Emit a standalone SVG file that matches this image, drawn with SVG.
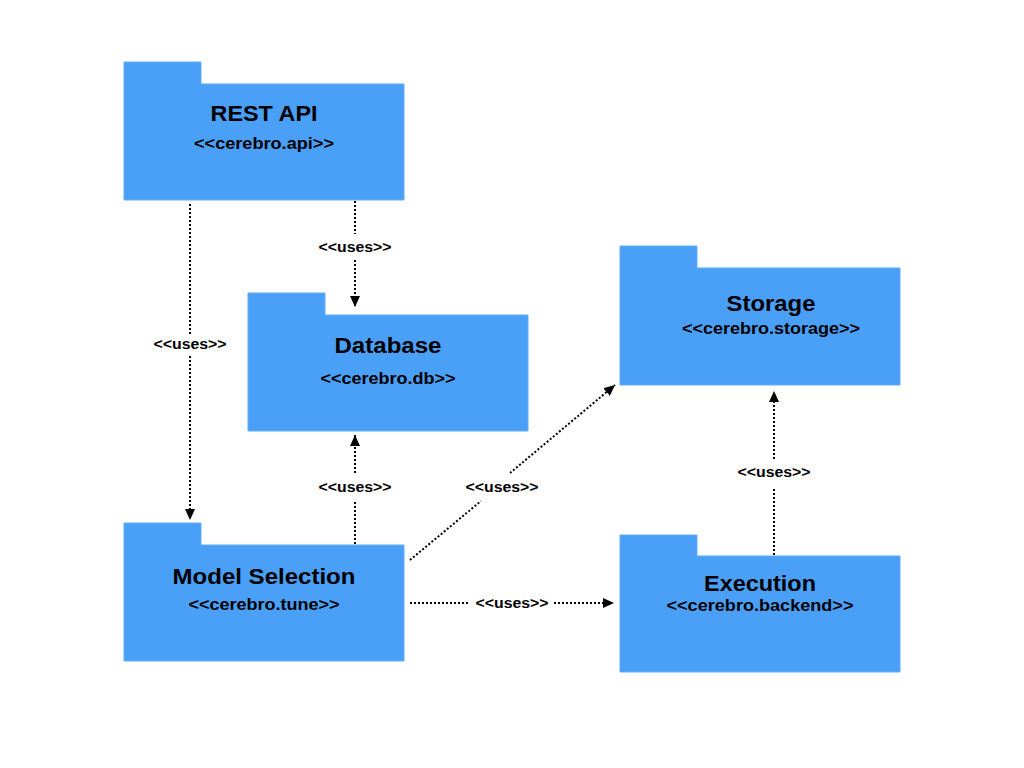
<svg xmlns="http://www.w3.org/2000/svg" width="1024" height="768" viewBox="0 0 1024 768">
<defs>
<style>
.pkg{fill:#4A9FF7;stroke:#63ADF8;stroke-width:1}
.title{font-family:"Liberation Sans",Arial,sans-serif;font-weight:bold;font-size:22px;fill:#000;text-anchor:middle}
.sub{font-family:"Liberation Sans",Arial,sans-serif;font-weight:bold;font-size:17px;fill:#000;text-anchor:middle}
.lbl{font-family:"Liberation Sans",Arial,sans-serif;font-weight:bold;font-size:14px;fill:#000;text-anchor:middle}
.dep{fill:none;stroke:#000;stroke-width:2;stroke-dasharray:2 2}
</style>
<marker id="arr" markerUnits="userSpaceOnUse" markerWidth="12" markerHeight="10" refX="11" refY="5" orient="auto">
<path d="M0,0 L11,5 L0,10 Z" fill="#000"/>
</marker>
</defs>
<rect width="1024" height="768" fill="#fff"/>

<g id="rest-api">
<path class="pkg" d="M124,62 H201 V84 H404 V200 H124 Z"/>
<text class="title" x="264" y="121" textLength="107" lengthAdjust="spacingAndGlyphs">REST API</text>
<text class="sub" x="264" y="149" textLength="140" lengthAdjust="spacingAndGlyphs">&lt;&lt;cerebro.api&gt;&gt;</text>
</g>

<g id="database">
<path class="pkg" d="M248,293 H325 V315 H528 V431 H248 Z"/>
<text class="title" x="388" y="353" textLength="107" lengthAdjust="spacingAndGlyphs">Database</text>
<text class="sub" x="388" y="384" textLength="135" lengthAdjust="spacingAndGlyphs">&lt;&lt;cerebro.db&gt;&gt;</text>
</g>

<g id="model-selection">
<path class="pkg" d="M124,523 H201 V545 H404 V661 H124 Z"/>
<text class="title" x="264" y="584" textLength="183" lengthAdjust="spacingAndGlyphs">Model Selection</text>
<text class="sub" x="264" y="610" textLength="151" lengthAdjust="spacingAndGlyphs">&lt;&lt;cerebro.tune&gt;&gt;</text>
</g>

<g id="storage">
<path class="pkg" d="M620,246 H697 V268 H900 V385 H620 Z"/>
<text class="title" x="771" y="311" textLength="89" lengthAdjust="spacingAndGlyphs">Storage</text>
<text class="sub" x="771" y="334" textLength="178" lengthAdjust="spacingAndGlyphs">&lt;&lt;cerebro.storage&gt;&gt;</text>
</g>

<g id="execution">
<path class="pkg" d="M620,535 H697 V556 H900 V672 H620 Z"/>
<text class="title" x="760" y="591" textLength="112" lengthAdjust="spacingAndGlyphs">Execution</text>
<text class="sub" x="760" y="611" textLength="187" lengthAdjust="spacingAndGlyphs">&lt;&lt;cerebro.backend&gt;&gt;</text>
</g>

<g id="connectors">
<path class="dep" d="M190,204 V334"/>
<path class="dep" d="M190,356 V520" marker-end="url(#arr)"/>
<text class="lbl" x="190" y="349" textLength="73" lengthAdjust="spacingAndGlyphs">&lt;&lt;uses&gt;&gt;</text>

<path class="dep" d="M355,201 V234"/>
<path class="dep" d="M355,260 V307" marker-end="url(#arr)"/>
<text class="lbl" x="355" y="252" textLength="73" lengthAdjust="spacingAndGlyphs">&lt;&lt;uses&gt;&gt;</text>

<path class="dep" d="M355,544 V500"/>
<path class="dep" d="M355,473 V435" marker-end="url(#arr)"/>
<text class="lbl" x="355" y="492" textLength="73" lengthAdjust="spacingAndGlyphs">&lt;&lt;uses&gt;&gt;</text>

<path class="dep" d="M410,560 L481,501"/>
<path class="dep" d="M510,473 L615,385" marker-end="url(#arr)"/>
<text class="lbl" x="502" y="492" textLength="73" lengthAdjust="spacingAndGlyphs">&lt;&lt;uses&gt;&gt;</text>

<path class="dep" d="M410,603 H470"/>
<path class="dep" d="M554,603 H614" marker-end="url(#arr)"/>
<text class="lbl" x="512" y="608" textLength="73" lengthAdjust="spacingAndGlyphs">&lt;&lt;uses&gt;&gt;</text>

<path class="dep" d="M774,555 V487"/>
<path class="dep" d="M774,459 V391" marker-end="url(#arr)"/>
<text class="lbl" x="774" y="477" textLength="73" lengthAdjust="spacingAndGlyphs">&lt;&lt;uses&gt;&gt;</text>
</g>
</svg>
